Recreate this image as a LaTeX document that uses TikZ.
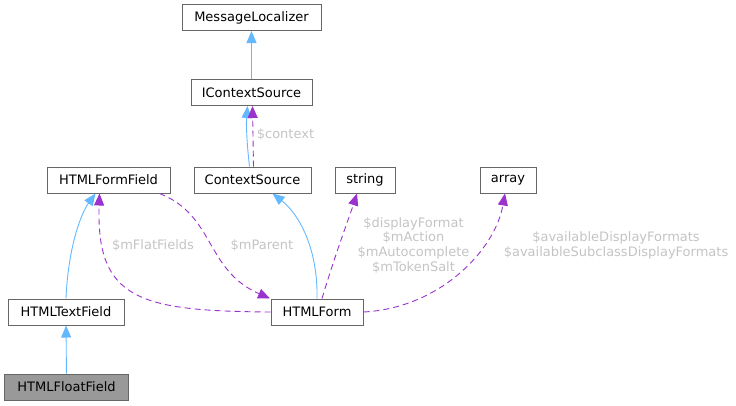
\documentclass[tikz,border=0pt]{standalone}
\usepackage{fontspec}
\setmainfont{DejaVu Sans}
\usetikzlibrary{arrows.meta}
\definecolor{cinherit}{HTML}{63B8FF}
\definecolor{cusage}{HTML}{9A32CD}
\definecolor{clabel}{HTML}{C4C4C4}
\definecolor{cborder}{HTML}{666666}
\definecolor{cself}{HTML}{999999}
\tikzset{
  every picture/.style={x=1pt, y=-1pt, font=\fontsize{13}{14.7}\selectfont},
  cls/.style={draw=cborder, fill=#1, line width=1pt, minimum height=26pt, inner sep=0pt, align=center},
  cls/.default=white,
  inherit/.style={-{Triangle[length=12pt, width=10pt]}, draw=cinherit, line width=0.9pt},
  usage/.style={-{Triangle[length=12pt, width=10pt]}, draw=cusage, line width=0.9pt, dash pattern=on 6pt off 4pt},
  lbl/.style={text=clabel, align=center, inner sep=0pt},
}

\begin{document}
\begin{tikzpicture}
  \useasboundingbox (0,0) rectangle (736,405);
  % classes
  \foreach \n/\x/\y/\w/\t in {msg/251.5/17.5/139/MessageLocalizer, ics/251.5/92.5/121/IContextSource,
      cs/252.5/180/117/ContextSource, ff/108.5/180/123/HTMLFormField, str/365/180/60/string,
      arr/508/180/56/array, tf/66/312/116/HTMLTextField, form/317/312/92/HTMLForm}
    \node[cls] (\n) at (\x,\y) [minimum width=\w pt] {\t};
  \node[cls=cself, minimum width=124pt] (flt) at (66.5,387) {HTMLFloatField};
  % inheritance
  \draw[inherit] (ics) -- (msg);
  \draw[inherit] ([xshift=-3pt]cs.north) .. controls (247,145) and (246,125) .. ([xshift=-4pt]ics.south);
  \draw[inherit] (tf.north) .. controls (68,250) and (80,215) .. ([xshift=-13pt]ff.south);
  \draw[inherit] (form.north) .. controls (318,250) and (300,215) .. ([xshift=20pt]cs.south);
  \draw[inherit] (flt) -- (tf);
  % members
  \draw[usage] ([xshift=1pt]cs.north) -- ([xshift=1pt]ics.south);
  \draw[usage] (form.west) .. controls (140,311) and (96,300) .. ([xshift=-9pt]ff.south);
  \draw[usage] ([xshift=51pt]ff.south) .. controls (215,215) and (205,270) .. ([xshift=-47pt]form.north);
  \draw[usage] ([xshift=5pt]form.north) .. controls (335,255) and (350,215) .. ([xshift=-8pt]str.south);
  \draw[usage] (form.east) .. controls (440,308) and (495,250) .. ([xshift=-3pt]arr.south);
  % labels
  \node[lbl] (lctx) at (285.5,135) {\$context};
  \node[lbl] (lflat) at (153,245.5) {\$mFlatFields};
  \node[lbl] (lpar) at (262,245.5) {\$mParent};
  \node[lbl] (lstr) at (413.5,245.3) {\$displayFormat\\\$mAction\\\$mAutocomplete\\\$mTokenSalt};
  \node[lbl] (larr) at (616,245.7) {\$availableDisplayFormats\\\$availableSubclassDisplayFormats};
\end{tikzpicture}
\end{document}
